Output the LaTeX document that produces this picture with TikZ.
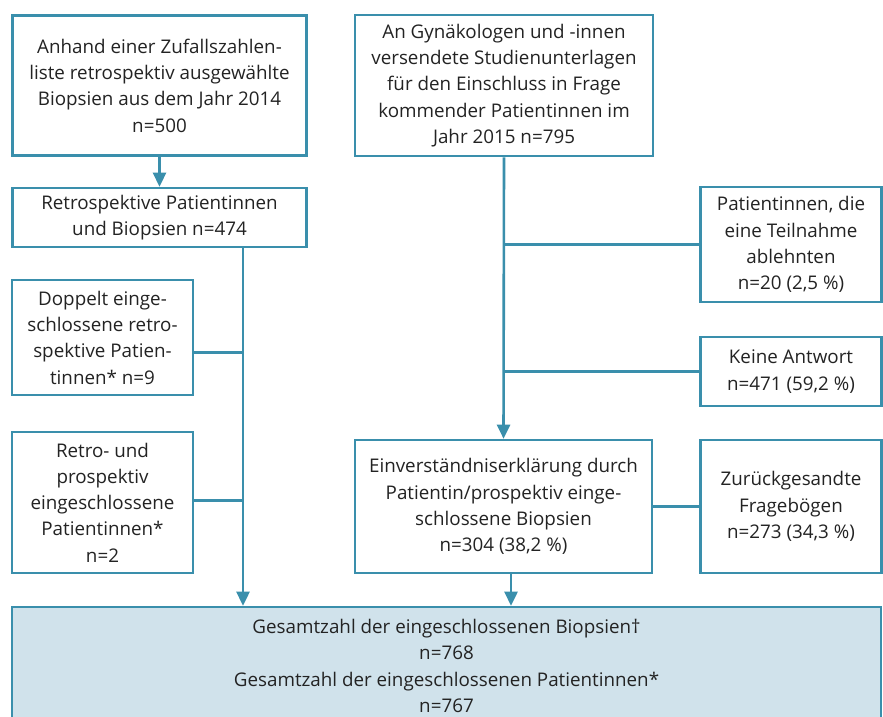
\documentclass[tikz,border=0pt]{standalone}
\usepackage{fontspec}
\setmainfont{Open Sans}
\usetikzlibrary{arrows.meta}
\definecolor{teal1}{RGB}{58,143,172}
\definecolor{fillb}{RGB}{208,226,235}
\definecolor{txt}{RGB}{35,35,35}
\begin{document}
\begin{tikzpicture}[x=1pt,y=-1pt,
  box/.style={draw=teal1, line width=2.6pt, align=center, inner sep=0pt,
    font=\fontsize{18.8}{26.3}\selectfont, text=txt},
  conn/.style={draw=teal1, line width=2.6pt},
  arr/.style={conn, -{Triangle[width=13pt,length=14pt]}}]
\clip (0,0) rectangle (883,716);
\fill[white] (0,0) rectangle (883,716);
% left column
\node[box, minimum width=294pt, minimum height=140pt] (A) at (159.5,85.5)
  {Anhand einer Zufallszahlen-\\liste retrospektiv ausgewählte\\Biopsien aus dem Jahr 2014\\n=500};
\node[box, minimum width=294pt, minimum height=59pt] (B) at (159.5,217.5)
  {Retrospektive Patientinnen\\und Biopsien n=474};
\node[box, minimum width=181pt, minimum height=115pt] (C) at (102.5,337.5)
  {Doppelt einge-\\schlossene retro-\\spektive Patien-\\tinnen* n=9};
\node[box, minimum width=181pt, minimum height=141pt] (D) at (102.5,502.5)
  {Retro- und\\prospektiv\\eingeschlossene\\Patientinnen*\\n=2};
% right column
\node[box, minimum width=298pt, minimum height=141pt] (E) at (504,85.5)
  {An Gynäkologen und -innen\\versendete Studienunterlagen\\für den Einschluss in Frage\\kommender Patientinnen im\\Jahr 2015 n=795};
\node[box, minimum width=181pt, minimum height=115pt] (F) at (791,244.5)
  {Patientinnen, die\\eine Teilnahme\\ablehnten\\n=20 (2,5 \%)};
\node[box, minimum width=181pt, minimum height=69pt] (K) at (791,371.5)
  {Keine Antwort\\n=471 (59,2 \%)};
\node[box, minimum width=297pt, minimum height=133pt] (G) at (503.5,506.5)
  {Einverständniserklärung durch\\Patientin/prospektiv einge-\\schlossene Biopsien\\n=304 (38,2 \%)};
\node[box, minimum width=181pt, minimum height=133pt] (H) at (791,506.5)
  {Zurückgesandte\\Fragebögen\\n=273 (34,3 \%)};
% total
\node[box, fill=fillb, minimum width=869pt, minimum height=118pt] (T) at (446.5,666)
  {Gesamtzahl der eingeschlossenen Biopsien†\\n=768\\Gesamtzahl der eingeschlossenen Patientinnen*\\n=767};
\coordinate (tl) at (243,0);
% connectors left
\draw[arr] (A.south) -- (B.north);
\draw[arr] (B.south -| tl) -- (T.north -| tl);
\draw[conn] ([yshift=-15pt]C.east) -- ([yshift=-15pt]C.east -| tl);
\draw[conn] ([yshift=2pt]D.east) -- ([yshift=2pt]D.east -| tl);
% connectors right
\draw[arr] (E.south) -- (G.north);
\draw[conn] (F.west) -- (F.west -| E.south);
\draw[conn] (K.west) -- (K.west -| E.south);
\draw[conn] (G.east) -- (H.west);
\draw[arr] ([xshift=7.5pt]G.south) -- ([xshift=7.5pt]G.south |- T.north);
\end{tikzpicture}
\end{document}
